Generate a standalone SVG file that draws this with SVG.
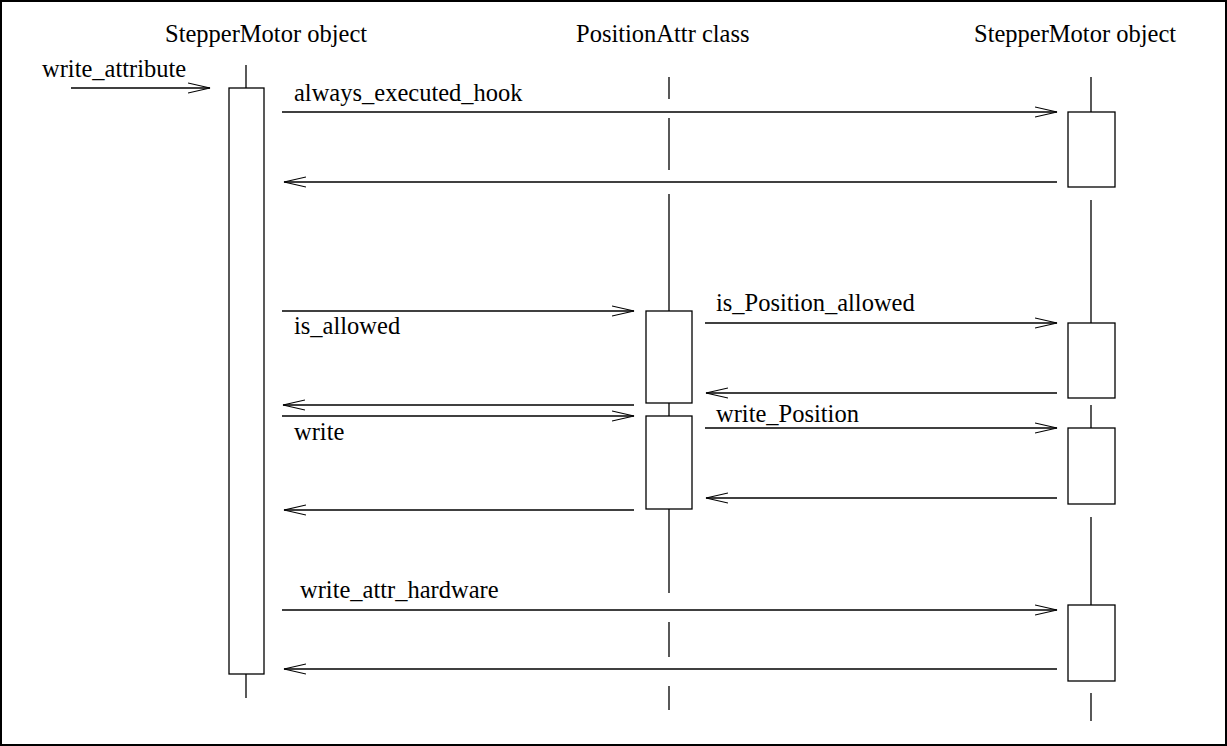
<svg xmlns="http://www.w3.org/2000/svg" width="1227" height="746" viewBox="0 0 1227 746">
<defs>
<marker id="open" markerWidth="24" markerHeight="12" refX="22" refY="6" orient="auto" markerUnits="userSpaceOnUse">
<path d="M0,1 L22,6 L0,11" fill="none" stroke="#000" stroke-width="1.2"/>
</marker>
<style>
text{font-family:"Liberation Serif","Times New Roman",serif;font-size:24.5px;fill:#000}
.ll{stroke:#000;stroke-width:1.3;fill:none}
.act{fill:#fff;stroke:#000;stroke-width:1.3}
.msg{stroke:#000;stroke-width:1.3;fill:none;marker-end:url(#open)}
</style>
</defs>
<rect x="0" y="0" width="1227" height="746" fill="#fff"/>
<rect x="1" y="1" width="1225" height="744" fill="none" stroke="#000" stroke-width="2"/>

<g id="lifeline-left">
<text x="165" y="42">StepperMotor object</text>
<line class="ll" x1="246" y1="65" x2="246" y2="88"/>
<rect class="act" x="229" y="88" width="35" height="586"/>
<line class="ll" x1="246" y1="674" x2="246" y2="698"/>
</g>

<g id="lifeline-middle">
<text x="576" y="42">PositionAttr class</text>
<path class="ll" d="M669,77 V99 M669,118 V170 M669,194 V311 M669,403 V416 M669,509 V593 M669,622 V657 M669,686 V710"/>
<rect class="act" x="646" y="311" width="46" height="92"/>
<rect class="act" x="646" y="416" width="46" height="93"/>
</g>

<g id="lifeline-right">
<text x="974" y="42">StepperMotor object</text>
<path class="ll" d="M1091,77 V112 M1091,200 V323 M1091,405 V428 M1091,517 V605 M1091,693 V721"/>
<rect class="act" x="1068" y="112" width="47" height="75"/>
<rect class="act" x="1068" y="323" width="47" height="75"/>
<rect class="act" x="1068" y="428" width="47" height="76"/>
<rect class="act" x="1068" y="605" width="47" height="76"/>
</g>

<g id="connectors">
<line class="msg" x1="71" y1="88" x2="210" y2="88"/>
<line class="msg" x1="282" y1="112" x2="1057" y2="112"/>
<line class="msg" x1="1057" y1="182" x2="284" y2="182"/>
<line class="msg" x1="282" y1="311" x2="634" y2="311"/>
<line class="msg" x1="705" y1="323" x2="1057" y2="323"/>
<line class="msg" x1="1057" y1="393" x2="706" y2="393"/>
<line class="msg" x1="634" y1="405" x2="283" y2="405"/>
<line class="msg" x1="282" y1="416" x2="634" y2="416"/>
<line class="msg" x1="705" y1="428" x2="1057" y2="428"/>
<line class="msg" x1="1057" y1="498" x2="706" y2="498"/>
<line class="msg" x1="634" y1="510" x2="284" y2="510"/>
<line class="msg" x1="282" y1="610" x2="1057" y2="610"/>
<line class="msg" x1="1057" y1="669" x2="284" y2="669"/>
</g>

<g id="labels">
<text x="42" y="77">write_attribute</text>
<text x="294" y="101">always_executed_hook</text>
<text x="294" y="334">is_allowed</text>
<text x="716" y="311">is_Position_allowed</text>
<text x="294" y="440">write</text>
<text x="716" y="422">write_Position</text>
<text x="300" y="598">write_attr_hardware</text>
</g>
</svg>
